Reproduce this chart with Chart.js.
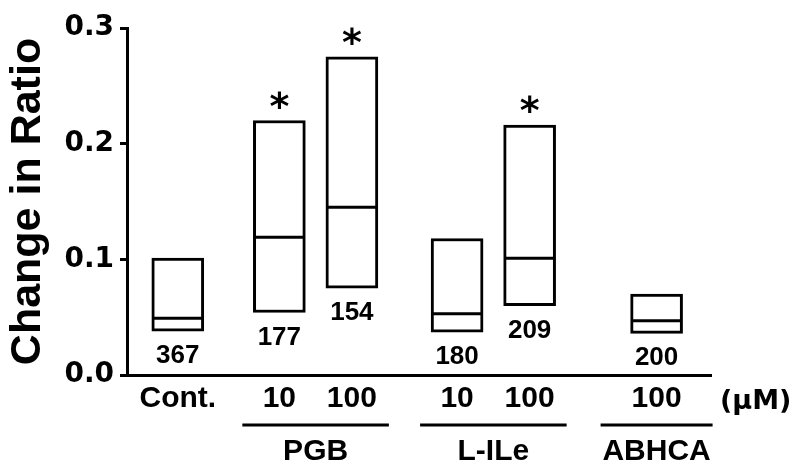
<!DOCTYPE html>
<html>
<head>
<meta charset="utf-8">
<script src="https://cdn.jsdelivr.net/npm/chart.js@4"></script>
<style>
  body { margin: 0; background: #fff; }
  #wrap { width: 800px; height: 472px; }
</style>
</head>
<body>
<div id="wrap"><canvas id="chart"></canvas></div>
<script>
// data
const doseLabels = ['Cont.', '10', '100', '10', '100', '100'];
const q1 = [0.038, 0.054, 0.075, 0.037, 0.060, 0.036];
const median = [0.049, 0.119, 0.145, 0.053, 0.101, 0.047];
const q3 = [0.101, 0.220, 0.275, 0.118, 0.216, 0.070];
const nCells = [367, 177, 154, 180, 209, 200];
const signif = [false, true, true, false, true, false];
const groupNames = ['PGB', 'L-ILe', 'ABHCA'];
const groupMembers = [[1, 2], [3, 4], [5]];
const yTicks = [0, 0.1, 0.2, 0.3];

// where each box sits on the x axis (uneven gaps, like the figure)
const slotX = [1, 2.4, 3.4, 4.85, 5.85, 7.6];

const ctx = document.querySelector('canvas#chart').getContext('2d');

// extra text: n under boxes, asterisks, group lines + names, unit
const annotate = {
    id: 'annotate',
    afterDraw(chart) {
        const {ctx, scales: {x, y}} = chart;
        ctx.save();
        ctx.fillStyle = '#000';
        ctx.strokeStyle = '#000';
        ctx.textAlign = 'center';
        ctx.textBaseline = 'alphabetic';

        ctx.font = 'bold 26px "Liberation Sans"';
        nCells.forEach((n, i) => {
            ctx.fillText(String(n), x.getPixelForValue(slotX[i]), y.getPixelForValue(q1[i]) + 32);
        });

        ctx.font = 'bold 38px "DejaVu Sans"';
        signif.forEach((s, i) => {
            if (s) ctx.fillText('*', x.getPixelForValue(slotX[i]), y.getPixelForValue(q3[i]) - 2);
        });

        const lineY = y.getPixelForValue(0) + 50;
        ctx.lineWidth = 3;
        ctx.font = 'bold 30px "Liberation Sans"';
        groupMembers.forEach((m, g) => {
            const a = x.getPixelForValue(slotX[m[0]]);
            const b = x.getPixelForValue(slotX[m[m.length - 1]]);
            const mid = (a + b) / 2;
            const half = Math.max((b - a) / 2 + 37, 56);
            ctx.beginPath();
            ctx.moveTo(mid - half, lineY);
            ctx.lineTo(mid + half, lineY);
            ctx.stroke();
            ctx.fillText(groupNames[g], mid, lineY + 35);
        });

        ctx.font = 'bold 27px "DejaVu Sans"';
        ctx.textAlign = 'left';
        ctx.fillText('(\u00b5M)', 720, y.getPixelForValue(0) + 34);
        ctx.restore();
    }
};

new Chart(ctx, {
    type: 'bar',
    data: {
        datasets: [
            {
                type: 'line',
                label: 'median',
                data: slotX.map((v, i) => ({x: v, y: median[i]})),
                showLine: false,
                pointStyle: 'line',
                pointRadius: 25,
                pointHoverRadius: 25,
                pointBorderWidth: 3,
                pointHoverBorderWidth: 3,
                borderColor: '#000',
                order: 1
            },
            {
                label: 'box',
                data: slotX.map((v, i) => ({x: v, y: [q1[i], q3[i]]})),
                backgroundColor: '#fff',
                borderColor: '#000',
                borderWidth: 3,
                borderSkipped: false,
                barThickness: 52,
                order: 2
            }
        ]
    },
    options: {
        responsive: true,
        maintainAspectRatio: false,
        animation: false,
        layout: {padding: {left: 0, top: 22, right: 89, bottom: 0}},
        plugins: {legend: {display: false}, tooltip: {enabled: false}},
        scales: {
            x: {
                type: 'linear',
                min: 0.3,
                max: 8.35,
                offset: false,
                grid: {display: false, drawTicks: false},
                border: {display: true, color: '#000', width: 3},
                afterFit: s => { s.height = 97; },
                afterBuildTicks: s => { s.ticks = slotX.map(v => ({value: v})); },
                ticks: {
                    autoSkip: false,
                    maxRotation: 0,
                    padding: 6,
                    color: '#000',
                    font: {family: '"Liberation Sans"', size: 30, weight: 'bold'},
                    callback: (v, i) => doseLabels[i]
                }
            },
            y: {
                min: 0,
                max: 0.3,
                afterFit: s => { s.width = 127; },
                afterBuildTicks: s => { s.ticks = yTicks.map(v => ({value: v})); },
                grid: {display: true, drawOnChartArea: false, drawTicks: true, tickLength: 7, lineWidth: 3, color: '#000'},
                border: {display: true, color: '#000', width: 3},
                ticks: {
                    padding: 6,
                    color: '#000',
                    font: {family: '"DejaVu Sans"', size: 28, weight: 'bold'},
                    callback: v => v.toFixed(1)
                },
                title: {
                    display: true,
                    text: 'Change in Ratio',
                    color: '#000',
                    padding: {top: 2, bottom: 0},
                    font: {family: '"Liberation Sans"', size: 43, weight: 'bold'}
                }
            }
        }
    },
    plugins: [annotate]
});
</script>
</body>
</html>
